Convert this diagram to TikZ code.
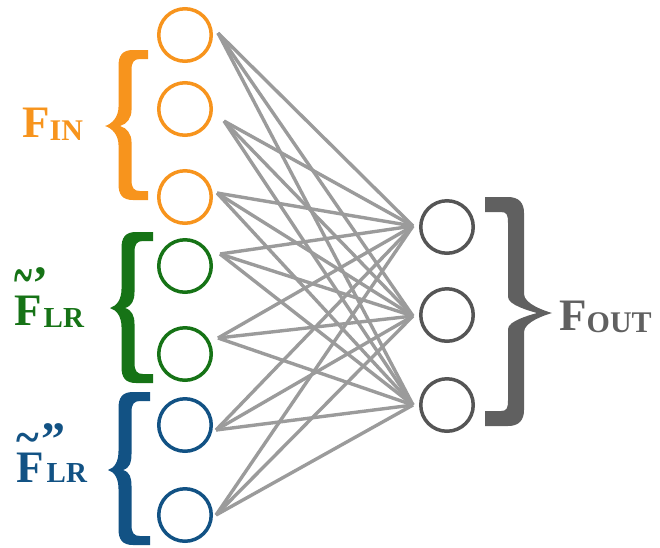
\documentclass[tikz,border=0pt]{standalone}
\usepackage{fontspec}
\setmainfont{Liberation Serif}
\usetikzlibrary{calc}
\definecolor{cOrange}{RGB}{247,148,29}
\definecolor{cGreen}{RGB}{22,115,22}
\definecolor{cBlue}{RGB}{18,82,132}
\definecolor{cNode}{RGB}{85,85,85}
\definecolor{cGray}{RGB}{96,96,96}
\definecolor{cLine}{RGB}{155,155,155}
\def\BrArm{9}
% #1 colour, #2 centre x of stroke, #3 top, #4 bottom, #5 tip x, #6 tip y, #7 open end x, #8 half width, #9 direction
\newcommand{\BraceShape}[9]{%
 \fill[#1] (#7,#3)
 -- ({#2+(#9)*8},#3)
 .. controls ({#2-(#9)*3},#3) and ({#2-(#9)*#8},{#3+6}) .. ({#2-(#9)*#8},{#3+16})
 -- ({#2-(#9)*#8},{#6-19})
 .. controls ({#2-(#9)*#8},{#6-9}) and ({#5+(#9)*7},{#6-2}) .. (#5,#6)
 .. controls ({#5+(#9)*7},{#6+2}) and ({#2-(#9)*#8},{#6+9}) .. ({#2-(#9)*#8},{#6+19})
 -- ({#2-(#9)*#8},{#4-16})
 .. controls ({#2-(#9)*#8},{#4-6}) and ({#2-(#9)*3},#4) .. ({#2+(#9)*8},#4)
 -- (#7,#4)
 -- (#7,{#4-\BrArm})
 -- ({#2+(#9)*15},{#4-\BrArm})
 .. controls ({#2+(#9)*9},{#4-\BrArm}) and ({#2+(#9)*#8},{#4-\BrArm-3}) .. ({#2+(#9)*#8},{#4-\BrArm-11})
 -- ({#2+(#9)*#8},{#6+16})
 .. controls ({#2+(#9)*#8},{#6+8}) and ({#5+(#9)*22},{#6+2}) .. ({#5+(#9)*15},#6)
 .. controls ({#5+(#9)*22},{#6-2}) and ({#2+(#9)*#8},{#6-8}) .. ({#2+(#9)*#8},{#6-16})
 -- ({#2+(#9)*#8},{#3+\BrArm+11})
 .. controls ({#2+(#9)*#8},{#3+\BrArm+3}) and ({#2+(#9)*9},{#3+\BrArm}) .. ({#2+(#9)*15},{#3+\BrArm})
 -- (#7,{#3+\BrArm}) -- cycle;}
\newcommand{\BigF}[1]{\fontsize{45}{45}\selectfont #1}
\newcommand{\SmSub}[1]{\fontsize{29}{29}\selectfont #1}
\newcommand{\TildeMark}[3]{\rlap{\raisebox{#3pt}{\scalebox{#1}[#2]{\fontsize{30}{30}\selectfont\textasciitilde}}}}
\newcommand{\QuoteMark}[3]{\rlap{\kern#1pt\raisebox{#3pt}{\fontsize{48}{48}\selectfont #2}}}
\begin{document}
\begin{tikzpicture}[x=1pt,y=-1pt,
  neuron/.style={circle, draw, line width=3.5pt, minimum size=52.5pt, inner sep=0pt},
  link/.style={draw=cLine, line width=3.4pt},
  lbl/.style={inner sep=0pt, font=\bfseries}]
\useasboundingbox (0,0) rectangle (660,547);
% input neurons
\node[neuron, draw=cOrange] (L1) at (185,35) {};
\node[neuron, draw=cOrange] (L2) at (185,109) {};
\node[neuron, draw=cOrange] (L3) at (185,197) {};
\node[neuron, draw=cGreen] (L4) at (185,266) {};
\node[neuron, draw=cGreen] (L5) at (185,354) {};
\node[neuron, draw=cBlue] (L6) at (185,425) {};
\node[neuron, draw=cBlue] (L7) at (185,515) {};
% output neurons
\node[neuron, draw=cNode] (R1) at (447,227) {};
\node[neuron, draw=cNode] (R2) at (447,315) {};
\node[neuron, draw=cNode] (R3) at (447,405) {};
% connector ends
\coordinate (s1) at (218,33);
\coordinate (s2) at (224,121);
\coordinate (s3) at (217,193);
\coordinate (s4) at (220,254);
\coordinate (s5) at (218,338);
\coordinate (s6) at (216,430);
\coordinate (s7) at (216,515);
\coordinate (e1) at (413,226);
\coordinate (e2) at (413,316);
\coordinate (e3) at (413,405);
\foreach \i in {1,...,7}{\foreach \j in {1,2,3}{\draw[link] (s\i) -- (e\j);}}
% braces
\BraceShape{cOrange}{125}{50}{200}{105}{126}{148}{6.5}{1}
\BraceShape{cGreen}{128}{232}{383}{110}{308}{153}{6.5}{1}
\BraceShape{cBlue}{125}{392}{545}{108}{470}{150}{6.5}{1}
\def\BrArm{15}
\BraceShape{cGray}{516}{197}{426}{552}{313}{485}{8}{-1}
% labels
\node[lbl, text=cOrange, anchor=base west] (fin) at (22,137) {\BigF{F}\raisebox{-3pt}{\fontsize{30}{30}\selectfont IN}};
\node[lbl, text=cGreen, anchor=base west] (flr1) at (14,325) {\TildeMark{1.15}{2.2}{28}\QuoteMark{18}{’}{26}\BigF{F}\kern2pt\raisebox{-2pt}{\SmSub{LR}}};
\node[lbl, text=cBlue, anchor=base west] (flr2) at (16,482) {\TildeMark{1.45}{1.6}{29}\QuoteMark{25}{”}{27}\BigF{F}\kern3pt\SmSub{LR}};
\node[lbl, text=cGray, anchor=base west] (fout) at (559,330) {\BigF{F}\raisebox{-2pt}{\fontsize{30}{30}\selectfont OUT}};
\end{tikzpicture}
\end{document}
